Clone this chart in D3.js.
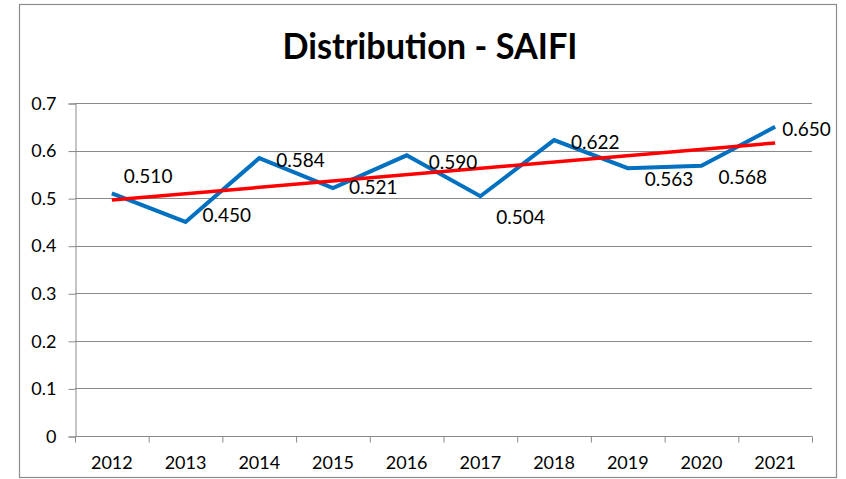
<!DOCTYPE html>
<html>
<head>
<meta charset="utf-8">
<script src="https://cdn.jsdelivr.net/npm/d3@7"></script>
<style>
  body { margin: 0; background: #fff; }
  text { font-family: Lato, "Open Sans", sans-serif; fill: #000; }
</style>
</head>
<body>
<script>
// chart data
const years = ["2012", "2013", "2014", "2015", "2016", "2017", "2018", "2019", "2020", "2021"];
const saifi = [0.510, 0.450, 0.584, 0.521, 0.590, 0.504, 0.622, 0.563, 0.568, 0.650];
const trendEnds = [0.496, 0.616]; // linear trendline at first and last year
const yTicks = [0, 0.1, 0.2, 0.3, 0.4, 0.5, 0.6, 0.7];

// where each value label sits relative to its point (dx, dy)
const labelPlace = [
  [12, -17], [17, -7], [17, 2], [16, -1], [22, 7],
  [16, 21], [17, 2], [17, 11], [17, 12], [7, 3]
];

const w = 846, h = 479;
const plotLeft = 75, plotRight = 812, plotTop = 103, plotBottom = 436;

const svg = d3.select("body").append("svg")
  .attr("width", w)
  .attr("height", h);

// outer chart border
svg.append("rect")
  .attr("x", 19.5).attr("y", 4.5)
  .attr("width", 817).attr("height", 473)
  .attr("fill", "#fff")
  .attr("stroke", "#8c8c8c")
  .attr("stroke-width", 1.2);

svg.append("text")
  .attr("x", 430).attr("y", 59)
  .attr("text-anchor", "middle")
  .attr("textLength", 295)
  .attr("lengthAdjust", "spacingAndGlyphs")
  .style("font-size", "36px")
  .style("font-weight", "bold")
  .text("Distribution - SAIFI");

const x = d3.scaleBand().domain(years).range([plotLeft, plotRight]);
const y = d3.scaleLinear().domain([0, 0.7]).range([plotBottom, plotTop]);

// gridlines
svg.append("g").selectAll("line")
  .data(yTicks.filter(d => d > 0))
  .enter()
  .append("line")
  .attr("x1", plotLeft).attr("x2", plotRight)
  .attr("y1", d => Math.round(y(d)) + 0.5)
  .attr("y2", d => Math.round(y(d)) + 0.5)
  .attr("stroke", "#8a8a8a")
  .attr("stroke-width", 1);

// y axis
const yAxis = svg.append("g")
  .attr("transform", `translate(${plotLeft + 0.5},0.5)`)
  .call(d3.axisLeft(y).tickValues(yTicks).tickSize(7).tickPadding(12)
    .tickFormat(d => d === 0 ? "0" : d3.format(".1f")(d)));
yAxis.select(".domain").attr("stroke", "#8a8a8a");
yAxis.selectAll(".tick line").attr("stroke", "#8a8a8a");
yAxis.selectAll("text").style("font-size", "18px");

// x axis with ticks between categories
const xAxis = svg.append("g")
  .attr("transform", `translate(0,${plotBottom + 0.5})`)
  .call(d3.axisBottom(x).tickSize(0).tickPadding(20));
xAxis.select(".domain").attr("d", `M${plotLeft + 0.5},0H${plotRight}`).attr("stroke", "#8a8a8a");
xAxis.selectAll("text").style("font-size", "18px");
xAxis.selectAll(".sep")
  .data(d3.range(years.length + 1))
  .enter()
  .append("line")
  .attr("x1", i => plotLeft + i * x.bandwidth() + 0.5)
  .attr("x2", i => plotLeft + i * x.bandwidth() + 0.5)
  .attr("y1", 0).attr("y2", 6)
  .attr("stroke", "#8a8a8a");

const cx = d => x(d) + x.bandwidth() / 2;

// data line
const line = d3.line()
  .x((d, i) => cx(years[i]))
  .y(d => y(d));

svg.append("path")
  .datum(saifi)
  .attr("d", line)
  .attr("fill", "none")
  .attr("stroke", "#0070c0")
  .attr("stroke-width", 4)
  .attr("stroke-linejoin", "miter");

// trendline
svg.append("line")
  .attr("x1", cx(years[0]))
  .attr("y1", y(trendEnds[0]))
  .attr("x2", cx(years[years.length - 1]))
  .attr("y2", y(trendEnds[1]))
  .attr("stroke", "#ff0000")
  .attr("stroke-width", 3.5);

// value labels
svg.append("g").selectAll("text")
  .data(saifi)
  .enter()
  .append("text")
  .attr("x", (d, i) => cx(years[i]) + labelPlace[i][0])
  .attr("y", (d, i) => y(d) + labelPlace[i][1])
  .attr("dy", "0.35em")
  .style("font-size", "19px")
  .text(d => d3.format(".3f")(d));
</script>
</body>
</html>
